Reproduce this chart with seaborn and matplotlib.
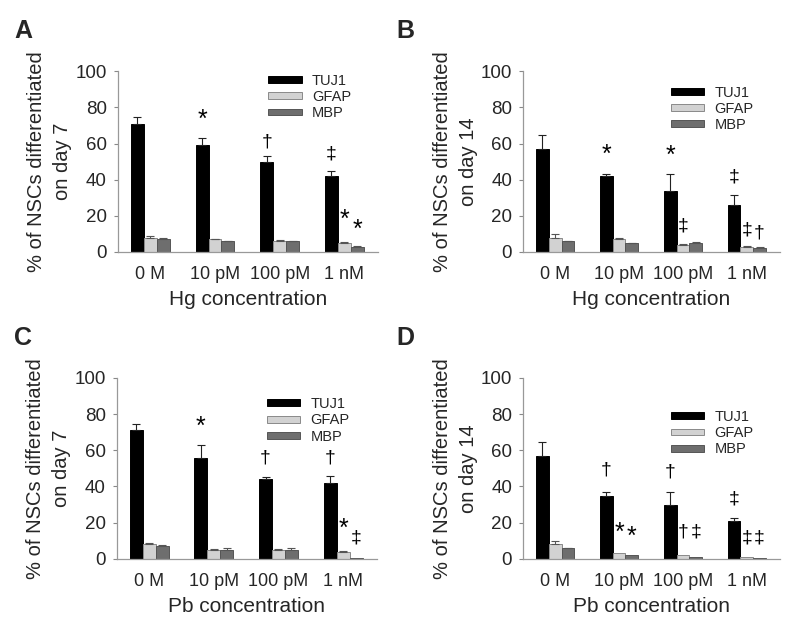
import pandas as pd
import matplotlib
matplotlib.use("Agg")
import matplotlib.pyplot as plt
import matplotlib.patches as mpatches
import seaborn as sns

sns.set_style("ticks")
plt.rcParams['font.family'] = ['Liberation Sans', 'DejaVu Sans']

concentrations = ["0 M", "10 pM", "100 pM", "1 nM"]
markers = ["TUJ1", "GFAP", "MBP"]
colors = ["#000000", "#d2d2d2", "#6e6e6e"]
edges = ["#000000", "#8a8a8a", "#555555"]

# panel A : Hg, day 7
a_mean = {"TUJ1": [71, 59, 50, 42], "GFAP": [8, 7, 6, 5], "MBP": [7, 6, 6, 3]}
a_err = {"TUJ1": [3.5, 4, 3, 3], "GFAP": [0.8, 0.4, 0.5, 0.5], "MBP": [0.6, 0.3, 0.2, 0.3]}
a_marks = [(1, 0, "*", 73), (2, 0, "†", 61), (3, 0, "‡", 54), (3, 1, "*", 18), (3, 2, "*", 12)]

# panel B : Hg, day 14
b_mean = {"TUJ1": [57, 42, 34, 26], "GFAP": [8, 7, 4, 3], "MBP": [6, 5, 5, 2]}
b_err = {"TUJ1": [7.5, 1, 9, 5.5], "GFAP": [2, 0.5, 0.3, 0.3], "MBP": [0.2, 0.1, 0.3, 0.5]}
b_marks = [(1, 0, "*", 54), (2, 0, "*", 53), (2, 1, "‡", 14.5), (3, 0, "‡", 41.5),
           (3, 1, "‡", 12), (3, 2, "†", 10.5)]

# panel C : Pb, day 7
c_mean = {"TUJ1": [71, 56, 44, 42], "GFAP": [8, 5, 5, 4], "MBP": [7, 5, 5, 0.3]}
c_err = {"TUJ1": [3.5, 7, 1.5, 4], "GFAP": [0.5, 0.5, 0.5, 0.5], "MBP": [0.8, 1.2, 1.2, 0]}
c_marks = [(1, 0, "*", 73), (2, 0, "†", 56), (3, 0, "†", 56), (3, 1, "*", 16.5), (3, 2, "‡", 11.5)]

# panel D : Pb, day 14
d_mean = {"TUJ1": [57, 35, 30, 21], "GFAP": [8, 3, 2, 1], "MBP": [6, 2, 1, 0.3]}
d_err = {"TUJ1": [7.5, 2, 7, 1.5], "GFAP": [2, 0, 0, 0], "MBP": [0.2, 0, 0, 0]}
d_marks = [(1, 0, "†", 49), (1, 1, "*", 14.5), (1, 2, "*", 12), (2, 0, "†", 48),
           (2, 1, "†", 15), (2, 2, "‡", 15), (3, 0, "‡", 33), (3, 1, "‡", 11.5), (3, 2, "‡", 11.5)]

# letter, means, errors, marks, xlabel, second ylabel line, axes rect, legend anchor
panels = [
    ("A", a_mean, a_err, a_marks, "Hg concentration", "on day 7", [0.1475, 0.600, 0.325, 0.287], (0.577, 0.985)),
    ("B", b_mean, b_err, b_marks, "Hg concentration", "on day 14", [0.654, 0.600, 0.321, 0.287], (0.575, 0.92)),
    ("C", c_mean, c_err, c_marks, "Pb concentration", "on day 7", [0.146, 0.113, 0.325, 0.287], (0.577, 0.894)),
    ("D", d_mean, d_err, d_marks, "Pb concentration", "on day 14", [0.654, 0.113, 0.321, 0.287], (0.575, 0.823)),
]
letter_pos = {"A": (0.018, 0.950), "B": (0.496, 0.950), "C": (0.018, 0.463), "D": (0.496, 0.463)}

fig = plt.figure(figsize=(8, 6.3), dpi=100)

for letter, means, errs, marks, xlab, day, rect, leg_xy in panels:
    rows = []
    for m in markers:
        for i, c in enumerate(concentrations):
            rows.append({"conc": c, "marker": m, "value": means[m][i], "err": errs[m][i]})
    df = pd.DataFrame(rows)

    ax = fig.add_axes(rect)
    sns.barplot(data=df, x="conc", y="value", hue="marker", order=concentrations,
                hue_order=markers, palette=colors, width=0.6, errorbar=None,
                legend=False, ax=ax, saturation=1)
    bar_groups = list(ax.containers)

    # upper-only error bars, as in the original figure
    for k, cont in enumerate(bar_groups):
        m = markers[k]
        for bar, e in zip(cont, errs[m]):
            bar.set_edgecolor(edges[k])
            bar.set_linewidth(0.7)
            xc = bar.get_x() + bar.get_width() / 2
            if e > 0:
                ax.errorbar(xc, bar.get_height(), yerr=[[0], [e]], fmt="none",
                            ecolor="#222222" if k == 0 else "#555555",
                            elinewidth=0.8, capsize=3, capthick=0.8)

    # significance marks
    for g, h, sym, yv in marks:
        bar = bar_groups[h][g]
        xc = bar.get_x() + bar.get_width() / 2
        ax.text(xc, yv, sym, ha="center", va="center",
                fontsize=18 if sym == "*" else 14, color="black")

    ax.set_ylim(0, 100)
    ax.set_xlim(-0.5, 3.52)
    ax.set_yticks([0, 20, 40, 60, 80, 100])
    ax.tick_params(axis="y", labelsize=13.5, length=3, color="#888888", pad=5)
    ax.tick_params(axis="x", labelsize=13, length=0, pad=10)
    sns.despine(ax=ax)
    for s in ["left", "bottom"]:
        ax.spines[s].set_color("#999999")
        ax.spines[s].set_linewidth(0.9)
    ax.set_xlabel(xlab, fontsize=15, labelpad=5)
    ax.set_ylabel("% of NSCs differentiated\n" + day, fontsize=14.5, linespacing=1.5)
    ax.yaxis.set_label_coords(-0.175, 0.5)

    handles = [mpatches.Patch(facecolor=colors[k], edgecolor=edges[k], linewidth=0.7, label=markers[k])
               for k in range(3)]
    ax.legend(handles=handles, loc="upper left", bbox_to_anchor=leg_xy, frameon=False,
              fontsize=10.5, handlelength=2.3, handleheight=0.35, handletextpad=0.7,
              labelspacing=0.15, borderpad=0, borderaxespad=0)

    fig.text(letter_pos[letter][0], letter_pos[letter][1], letter, fontsize=18,
             fontweight="bold", va="center", ha="left")

fig.savefig("out.png", dpi=100)
